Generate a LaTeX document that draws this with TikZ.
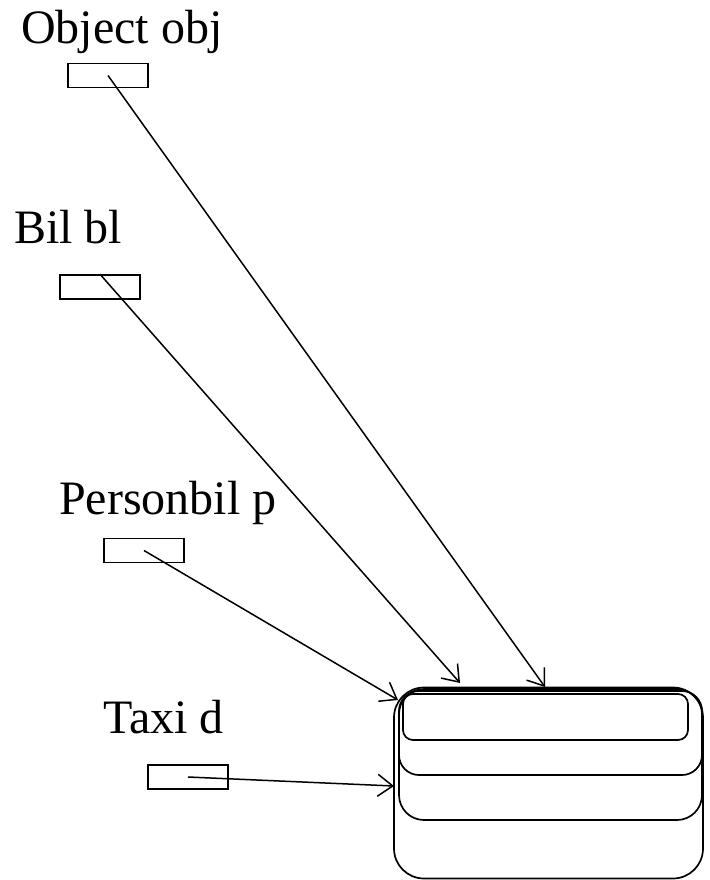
\documentclass[tikz,border=0pt]{standalone}
\usepackage{fontspec}
\setmainfont{Liberation Serif}
\usetikzlibrary{positioning,arrows.meta}
\tikzset{%
  var/.style={draw, rectangle, line width=1.6pt, minimum width=80pt,
    minimum height=24pt, inner sep=0pt},% reference variable box
  vname/.style={anchor=base west, inner sep=0pt,
    font=\fontsize{48}{57}\selectfont},% declaration text
  part/.style={draw, rectangle, line width=1.7pt, inner sep=0pt},% part of the object
  ref/.style={line width=1.5pt,
    -{Straight Barb[length=15pt,width=22pt,line width=1.5pt]}}% reference arrow
}

\begin{document}
\begin{tikzpicture}[x=1pt, y=-1pt]
\useasboundingbox (0,0) rectangle (709,880);

% the taxi object and its nested parts
\node[part, rounded corners=30pt, minimum width=309pt, minimum height=191pt] (taxi) at (548.5,783) {};
\node[part, rounded corners=25pt, minimum width=303pt, minimum height=131pt] (personbil) at (550.5,754.5) {};
\node[part, rounded corners=20pt, minimum width=303pt, minimum height=84pt] (bil) at (550.5,733) {};
\node[part, rounded corners=10pt, minimum width=285pt, minimum height=46pt] (object) at (545.5,717) {};

% declarations
\node[vname] (tobj) at (21,44) {Object obj};
\node[vname] (tbl) at (14,243) {Bil bl};
\node[vname] (tp) at (59,514) {Personbil p};
\node[vname] (td) at (103,733) {Taxi d};

\node[var] (obj) at (108,75.5) {};
\node[var] (bl) at (100,287) {};
\node[var] (p) at (144,550.5) {};
\node[var] (d) at (188,777) {};

\coordinate (objend) at (545,687);
\coordinate (blend) at (460,683);
\coordinate (pend) at (398,700);
\coordinate (dend) at (394,786);

\draw[ref] (obj.center) -- (objend);
\draw[ref] (bl.north) -- (blend);
\draw[ref] (p.center) -- (pend);
\draw[ref] (d.center) -- (dend);

\end{tikzpicture}
\end{document}
